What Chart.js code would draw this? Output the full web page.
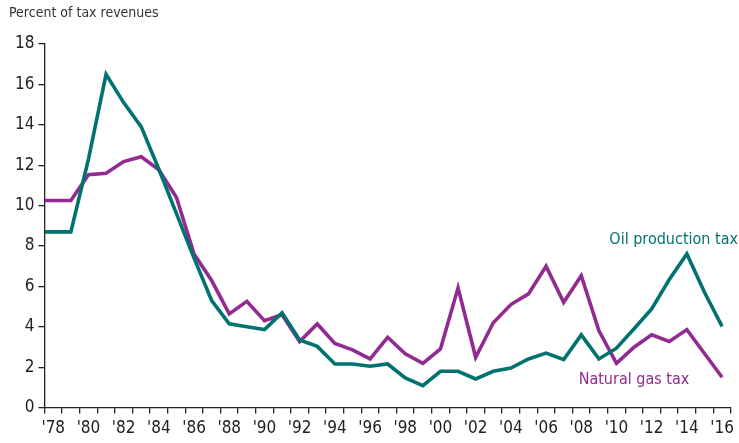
<!DOCTYPE html>
<html>
<head>
<meta charset="utf-8">
<script src="https://cdn.jsdelivr.net/npm/chart.js@4/dist/chart.umd.min.js"></script>
<style>
  html, body { margin: 0; padding: 0; background: #fff; }
  #wrap { width: 739px; height: 443px; position: relative; }
</style>
</head>
<body>
<div id="wrap"><canvas id="c" width="739" height="443"></canvas></div>
<script>
const years = [1978,1979,1980,1981,1982,1983,1984,1985,1986,1987,1988,1989,1990,1991,1992,1993,1994,1995,1996,1997,1998,1999,2000,2001,2002,2003,2004,2005,2006,2007,2008,2009,2010,2011,2012,2013,2014,2015,2016];
const oilProductionTax = [8.7,8.7,12.3,16.5,15.1,13.9,11.8,9.6,7.4,5.3,4.15,4.0,3.86,4.69,3.35,3.03,2.16,2.16,2.05,2.16,1.47,1.09,1.8,1.8,1.42,1.8,1.96,2.41,2.7,2.38,3.6,2.41,2.94,3.9,4.89,6.34,7.61,5.71,4.02];
const naturalGasTax = [10.25,10.25,11.53,11.6,12.18,12.42,11.77,10.4,7.6,6.29,4.64,5.26,4.3,4.6,3.27,4.14,3.18,2.86,2.41,3.48,2.66,2.19,2.9,5.93,2.49,4.2,5.1,5.63,7.0,5.21,6.53,3.81,2.19,2.99,3.6,3.27,3.86,2.68,1.5];
const yTicks = [0,2,4,6,8,10,12,14,16,18];
const yLabel = 'Percent of tax revenues';
const seriesNames = ['Oil production tax', 'Natural gas tax'];

const TEAL = '#00736e';
const PURPLE = '#922a91';
const FONT = "'Liberation Sans Narrow', 'DejaVu Sans Condensed', 'Roboto Condensed', 'Arial Narrow', sans-serif";

function toPoints(vals) {
  // line starts at the left edge of the first year's band, at the first year's value
  const pts = [{x: years[0] - 0.5, y: vals[0]}];
  years.forEach((yr, i) => pts.push({x: yr, y: vals[i]}));
  return pts;
}

const textPlugin = {
  id: 'texts',
  afterDraw(chart) {
    const ctx = chart.ctx;
    const xs = chart.scales.xd, ys = chart.scales.y;
    ctx.save();
    ctx.font = '14px ' + FONT;
    ctx.fillStyle = '#333';
    ctx.textAlign = 'left';
    ctx.textBaseline = 'middle';
    ctx.fillText(yLabel, 9, 13);
    ctx.font = '16px ' + FONT;
    ctx.fillStyle = TEAL;
    ctx.textAlign = 'right';
    ctx.fillText(seriesNames[0], 738, ys.getPixelForValue(8.3));
    ctx.fillStyle = PURPLE;
    ctx.textAlign = 'left';
    ctx.fillText(seriesNames[1], xs.getPixelForValue(2007.85), ys.getPixelForValue(1.38));
    ctx.restore();
  }
};

new Chart(document.getElementById('c'), {
  type: 'line',
  data: {
    datasets: [
      { label: seriesNames[0], data: toPoints(oilProductionTax), borderColor: TEAL, xAxisID: 'xd', yAxisID: 'y' },
      { label: seriesNames[1], data: toPoints(naturalGasTax), borderColor: PURPLE, xAxisID: 'xd', yAxisID: 'y' }
    ]
  },
  options: {
    responsive: false,
    animation: false,
    devicePixelRatio: 1,
    layout: { padding: { top: 44, right: 8, left: 11, bottom: -1 } },
    elements: {
      line: { borderWidth: 3.6, tension: 0, fill: false, borderCapStyle: 'butt', borderJoinStyle: 'miter' },
      point: { radius: 0, hoverRadius: 0 }
    },
    plugins: { legend: { display: false }, tooltip: { enabled: false }, title: { display: false } },
    scales: {
      xd: {
        type: 'linear', display: false,
        min: years[0] - 0.5, max: years[years.length - 1] + 0.5
      },
      x: {
        type: 'category',
        labels: years.map(String),
        offset: true,
        position: 'bottom',
        border: { display: true, color: '#222', width: 1.3 },
        grid: { offset: true, drawOnChartArea: false, drawTicks: true, tickLength: 6, color: '#222', lineWidth: 1.3 },
        ticks: {
          autoSkip: false, maxRotation: 0, minRotation: 0, padding: 5,
          color: '#222', font: { family: FONT, size: 17 },
          callback: function(v, i) {
            const yr = years[i];
            return yr % 2 === 0 ? "'" + String(yr).slice(2) : '';
          }
        }
      },
      y: {
        type: 'linear', min: 0, max: 18,
        afterBuildTicks: (s) => { s.ticks = yTicks.map(v => ({ value: v })); },
        border: { display: true, color: '#222', width: 1.3 },
        grid: { drawOnChartArea: false, drawTicks: true, tickLength: 6, color: '#222', lineWidth: 1.3 },
        ticks: { padding: 4, color: '#222', font: { family: FONT, size: 17 } }
      }
    }
  },
  plugins: [textPlugin]
});
</script>
</body>
</html>
